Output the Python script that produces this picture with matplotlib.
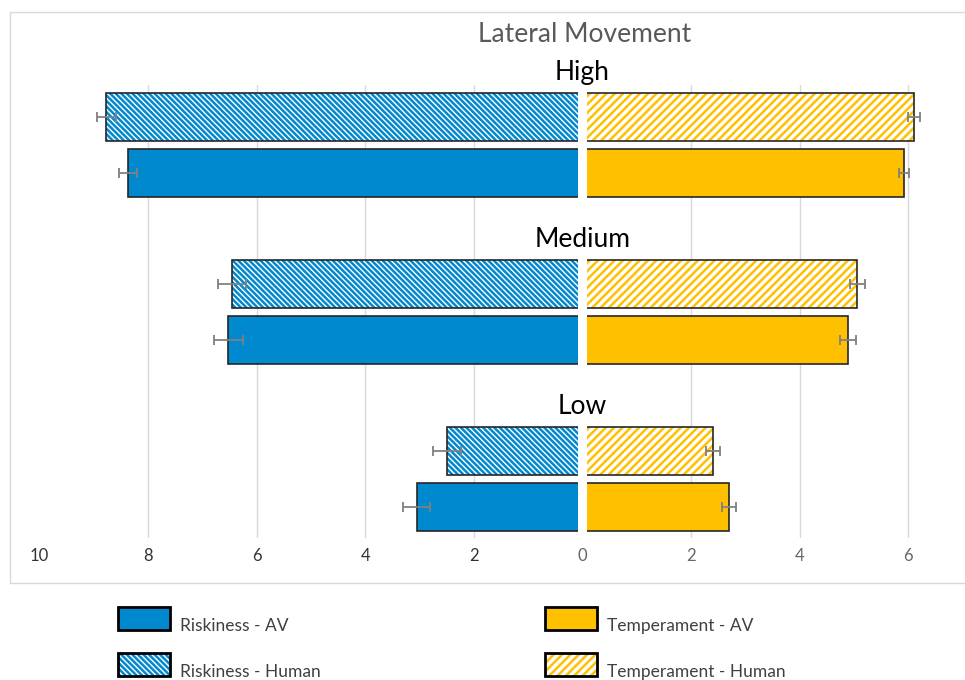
import numpy as np
import matplotlib
matplotlib.use("Agg")
import matplotlib.pyplot as plt
from matplotlib.patches import Rectangle

plt.rcParams['font.family'] = ['Lato', 'DejaVu Sans']
plt.rcParams['hatch.linewidth'] = 1.8

# data
levels = ['High', 'Medium', 'Low']
risk_av = [8.37, 6.52, 3.05]
risk_av_err = [0.17, 0.26, 0.25]
risk_human = [8.77, 6.45, 2.49]
risk_human_err = [0.18, 0.26, 0.26]
temp_av = [5.92, 4.89, 2.69]
temp_av_err = [0.10, 0.14, 0.13]
temp_human = [6.10, 5.06, 2.41]
temp_human_err = [0.11, 0.14, 0.13]
ticks = [-10, -8, -6, -4, -2, 0, 2, 4, 6]

blue = '#0089CF'
gold = '#FFC000'
edge = '#262626'
errc = '#808080'
blue_hatch = '\\' * 6
gold_hatch = '/' * 4

W, H = 965, 680
fig = plt.figure(figsize=(W / 100, H / 100), dpi=100)

def fx(px):
    return px / W

def fy(py):
    return 1 - py / H

# axes placed so that -10 sits at 39.5px and 0 at 582.5px
ax = fig.add_axes([fx(39.5), fy(538), fx(935.5 - 39.5), (538 - 85) / H])
ax.set_xlim(-10, 6.5)
ax.set_ylim(2.355, -0.358)

y = np.arange(len(levels))
off = 0.168
hgt = 0.287
y_h = y - off
y_a = y + off

for g in [-8, -6, -4, -2, 2, 4, 6]:
    ax.axvline(g, color='#d9d9d9', lw=1, zorder=0)

# riskiness (left, negative side)
ax.barh(y_a, -np.array(risk_av), hgt, color=blue, edgecolor=edge, lw=1.2, zorder=2)
ax.barh(y_h, -np.array(risk_human), hgt, color='white', edgecolor=blue, hatch=blue_hatch, lw=0, zorder=2)
ax.barh(y_h, -np.array(risk_human), hgt, fill=False, edgecolor=edge, lw=1.2, zorder=2)

# temperament (right)
ax.barh(y_a, temp_av, hgt, color=gold, edgecolor=edge, lw=1.2, zorder=2)
ax.barh(y_h, temp_human, hgt, color='white', edgecolor=gold, hatch=gold_hatch, lw=0, zorder=2)
ax.barh(y_h, temp_human, hgt, fill=False, edgecolor=edge, lw=1.2, zorder=2)

# white gap in the middle
ax.axvspan(-0.083, 0.083, color='white', zorder=3, lw=0)

ekw = dict(fmt='none', ecolor=errc, elinewidth=1.3, capsize=3.5, capthick=1.3, zorder=4)
ax.errorbar(-np.array(risk_av), y_a, xerr=risk_av_err, **ekw)
ax.errorbar(-np.array(risk_human), y_h, xerr=risk_human_err, **ekw)
ax.errorbar(temp_av, y_a, xerr=temp_av_err, **ekw)
ax.errorbar(temp_human, y_h, xerr=temp_human_err, **ekw)

for yi, lv in zip(y, levels):
    ax.text(0, yi - 0.43, lv, ha='center', va='center', fontsize=19, color='black', clip_on=False)

ax.set_xticks(ticks)
ax.set_xticklabels([str(abs(t)) for t in ticks], fontsize=12)
for t, lab in zip(ticks, ax.get_xticklabels()):
    lab.set_color('#333333' if t < 0 else '#666666')
ax.tick_params(axis='x', length=0, pad=7)
ax.set_yticks([])
for s in ax.spines.values():
    s.set_visible(False)

fig.text(fx(585), fy(35), 'Lateral Movement', ha='center', va='center', fontsize=19, color='#595959')

# chart frame
fig.add_artist(Rectangle((fx(10), fy(583)), fx(975 - 10), (583 - 12) / H, fill=False,
                         edgecolor='#d9d9d9', lw=1, transform=fig.transFigure))

# legend drawn by hand
items = [
    (118, 607, blue, None, blue, 'Riskiness - AV'),
    (118, 653, 'white', blue_hatch, blue, 'Riskiness - Human'),
    (545, 607, gold, None, gold, 'Temperament - AV'),
    (545, 653, 'white', gold_hatch, gold, 'Temperament - Human'),
]
for x0, y0, fc, hatch, hc, label in items:
    if hatch:
        fig.add_artist(Rectangle((fx(x0), fy(y0 + 23)), fx(52), 23 / H, facecolor=fc, edgecolor=hc,
                                 hatch=hatch, lw=0, transform=fig.transFigure))
    else:
        fig.add_artist(Rectangle((fx(x0), fy(y0 + 23)), fx(52), 23 / H, facecolor=fc, lw=0,
                                 transform=fig.transFigure))
    fig.add_artist(Rectangle((fx(x0), fy(y0 + 23)), fx(52), 23 / H, fill=False, edgecolor='black',
                             lw=2, transform=fig.transFigure))
    fig.text(fx(x0 + 62), fy(y0 + 19), label, ha='left', va='center', fontsize=12.5, color='#404040')

fig.savefig('out.png', dpi=100)
